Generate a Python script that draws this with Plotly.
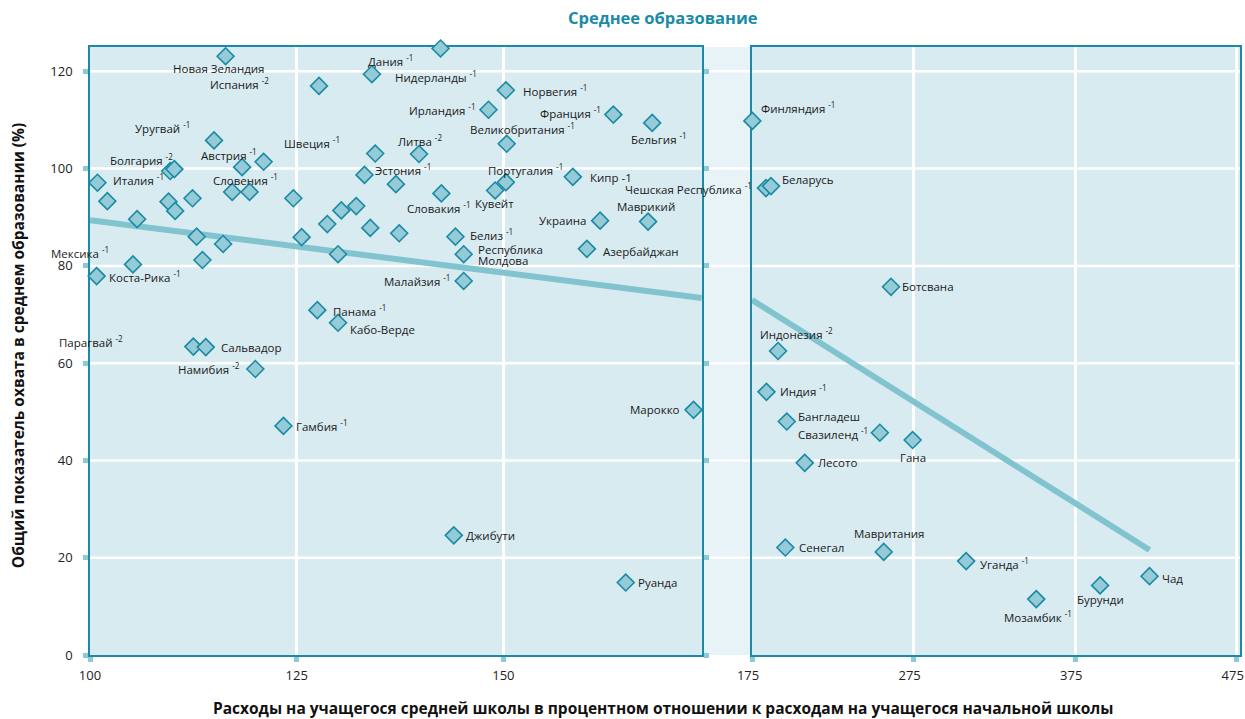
import plotly.graph_objects as go

# --- data ---
left_names = ["Новая Зеландия", "Дания <sup>-1</sup>", "Испания <sup>-2</sup>", "Нидерланды <sup>-1</sup>",
              "Норвегия <sup>-1</sup>", "Ирландия <sup>-1</sup>", "Франция <sup>-1</sup>", "Бельгия <sup>-1</sup>",
              "Великобритания <sup>-1</sup>", "Уругвай <sup>-1</sup>", "Швеция <sup>-1</sup>", "Литва <sup>-2</sup>",
              "Австрия <sup>-1</sup>", "Болгария <sup>-2</sup>", "Италия <sup>-1</sup>", "Словения <sup>-1</sup>",
              "Эстония <sup>-1</sup>", "Португалия <sup>-1</sup>", "Кувейт", "Кипр -1", "Словакия <sup>-1</sup>",
              "Украина", "Маврикий", "Белиз <sup>-1</sup>", "Республика<br>Молдова", "Азербайджан",
              "Малайзия <sup>-1</sup>", "Панама <sup>-1</sup>", "Кабо-Верде", "Мексика <sup>-1</sup>",
              "Коста-Рика <sup>-1</sup>", "Парагвай <sup>-2</sup>", "Сальвадор", "Намибия <sup>-2</sup>",
              "Гамбия <sup>-1</sup>", "Джибути", "Руанда", "Марокко"]
left_x = [116.4, 142.4, 127.7, 134.1, 150.3, 148.2, 163.3, 168.0, 150.4, 115.0, 134.5, 139.8,
          121.0, 110.2, 100.9, 119.3, 133.2, 150.3, 149.0, 158.4, 142.5, 161.7, 167.5, 144.2,
          145.2, 160.1, 145.2, 127.5, 130.0, 105.2, 100.8, 112.5, 114.0, 120.0, 123.4, 144.0,
          164.8, 173.0]
left_y = [123.1, 124.7, 117.0, 119.4, 116.1, 112.1, 111.1, 109.4, 105.1, 105.8, 103.1, 103.0,
          101.4, 99.9, 97.1, 95.2, 98.7, 97.2, 95.5, 98.3, 94.9, 89.3, 89.1, 86.0,
          82.4, 83.5, 76.9, 70.9, 68.3, 80.3, 77.9, 63.4, 63.3, 58.8, 47.1, 24.6,
          14.9, 50.4]

# unlabelled countries in the left panel
other_x = [102.1, 105.7, 109.5, 110.3, 112.4, 112.9, 113.6, 116.1, 118.4, 117.2, 124.6, 125.6,
           128.7, 130.0, 130.4, 132.2, 133.9, 137.4, 137.0, 109.7]
other_y = [93.3, 89.6, 93.2, 91.3, 93.9, 86.0, 81.2, 84.5, 100.3, 95.2, 93.9, 85.9,
           88.6, 82.4, 91.4, 92.3, 87.8, 86.7, 96.8, 99.5]

right_names = ["Финляндия <sup>-1</sup>", "Чешская Республика <sup>-1</sup>", "Беларусь", "Ботсвана",
               "Индонезия <sup>-2</sup>", "Индия <sup>-1</sup>", "Бангладеш", "Свазиленд <sup>-1</sup>",
               "Гана", "Лесото", "Сенегал", "Мавритания", "Уганда <sup>-1</sup>",
               "Мозамбик <sup>-1</sup>", "Бурунди", "Чад"]
right_x = [175.2, 183.6, 186.7, 261.0, 191.1, 183.9, 196.5, 254.1, 274.4, 207.6, 195.6, 256.5,
           307.5, 350.9, 390.4, 421.0]
right_y = [109.8, 96.0, 96.4, 75.7, 62.5, 54.1, 48.0, 45.7, 44.2, 39.5, 22.1, 21.2,
           19.3, 11.5, 14.3, 16.2]

fit_left_x = [100, 174]
fit_left_y = [89.4, 73.4]
fit_right_x = [175, 421]
fit_right_y = [73.0, 21.6]

y_ticks = [0, 20, 40, 60, 80, 100, 120]
x_ticks_left = [100, 125, 150]
x_ticks_right = [175, 275, 375, 475]

# label placement: anchor, dx, dy (pixels, dy down)
left_pos = [("center", -7, 12), ("right", -26, 12), ("right", -48, -2), ("left", 21, 2),
            ("left", 15, 0), ("right", -11, 0), ("right", -10, -2), ("center", 7, 16),
            ("center", 16, -15), ("right", -22, -13), ("right", -33, -11), ("center", 1, -14),
            ("right", -5, -7), ("right", 1, -10), ("left", 14, -3), ("center", -4, -12),
            ("left", 9, -5), ("center", 20, -13), ("center", -1, 13), ("left", 15, 1),
            ("center", -2, 14), ("right", -12, 0), ("center", -2, -15), ("left", 13, -2),
            ("left", 12, 1), ("left", 14, 3), ("right", -12, 0), ("left", 14, 0),
            ("left", 10, 7), ("right", -22, -12), ("left", 10, 0), ("right", -68, -5),
            ("left", 13, 0), ("right", -13, -1), ("left", 11, 0), ("left", 10, 0),
            ("left", 10, 0), ("right", -12, 0)]
right_pos = [("left", 7, -13), ("right", -12, 0), ("left", 9, -7), ("left", 9, 0),
             ("center", 18, -18), ("left", 12, -1), ("left", 9, -5), ("right", -10, 1),
             ("center", 0, 17), ("left", 11, 0), ("left", 12, 0), ("center", 5, -18),
             ("left", 12, 2), ("center", 2, 17), ("center", 0, 14), ("left", 10, 2)]

PANEL = "#d8ebf1"
GAP = "#e7f3f6"
BORDER = "#1b8aa5"
MFILL = "#95cad7"
FIT = "#82c3d0"
TICK = "#8ccad7"
FONT = "Open Sans"

dom_l = [0, 0.532]
dom_r = [0.5757, 1]

marker = dict(symbol="diamond", size=13, color=MFILL, line=dict(color=BORDER, width=1.6))

fig = go.Figure()
fig.add_trace(go.Scatter(x=fit_left_x, y=fit_left_y, mode="lines", line=dict(color=FIT, width=6),
                         xaxis="x", yaxis="y", hoverinfo="skip"))
fig.add_trace(go.Scatter(x=fit_right_x, y=fit_right_y, mode="lines", line=dict(color=FIT, width=6),
                         xaxis="x2", yaxis="y", hoverinfo="skip"))
fig.add_trace(go.Scatter(x=other_x, y=other_y, mode="markers", marker=marker, xaxis="x", yaxis="y",
                         cliponaxis=False))
fig.add_trace(go.Scatter(x=left_x, y=left_y, mode="markers", marker=marker, xaxis="x", yaxis="y",
                         cliponaxis=False, text=left_names))
fig.add_trace(go.Scatter(x=right_x, y=right_y, mode="markers", marker=marker, xaxis="x2", yaxis="y",
                         cliponaxis=False, text=right_names))

annotations = []
for names, xs, ys, pos, xr in [(left_names, left_x, left_y, left_pos, "x"),
                               (right_names, right_x, right_y, right_pos, "x2")]:
    for n, x, y, (anc, dx, dy) in zip(names, xs, ys, pos):
        lines = n.split("<br>")
        # tight line spacing for two-line labels, like the original
        for i, ln in enumerate(lines):
            off = (i - (len(lines) - 1) / 2) * 10.5
            annotations.append(dict(x=x, y=y, xref=xr, yref="y", text=ln, showarrow=False,
                                    xanchor=anc, yanchor="middle", xshift=dx, yshift=-(dy + off),
                                    font=dict(family=FONT, size=11.5, color="#1a1a1a")))

annotations += [
    dict(text="<b>Среднее образование</b>", x=0.4983, y=1.048, xref="paper", yref="paper",
         xanchor="center", yanchor="middle", showarrow=False,
         font=dict(family=FONT, size=16.5, color="#1a8aa5")),
    dict(text="<b>Расходы на учащегося средней школы в процентном отношении к расходам на учащегося начальной школы</b>",
         x=0.4983, y=-0.087, xref="paper", yref="paper", xanchor="center", yanchor="middle",
         showarrow=False, font=dict(family=FONT, size=15.5, color="#111")),
    dict(text="<b>Общий показатель охвата в среднем образовании (%)</b>", x=-0.0626, y=0.508,
         xref="paper", yref="paper", xanchor="center", yanchor="middle", showarrow=False,
         textangle=-90, font=dict(family=FONT, size=15.5, color="#111")),
]

shapes = [dict(type="rect", xref="paper", yref="paper", x0=0, x1=1, y0=0, y1=1,
               fillcolor=GAP, line=dict(width=0), layer="below")]
for d in (dom_l, dom_r):
    shapes.append(dict(type="rect", xref="paper", yref="paper", x0=d[0], x1=d[1], y0=0, y1=1,
                       fillcolor=PANEL, line=dict(width=0), layer="below"))
for t in y_ticks[1:]:
    shapes.append(dict(type="line", xref="paper", yref="y", x0=0, x1=1, y0=t, y1=t,
                       line=dict(color="white", width=2.5), layer="below"))

axis_common = dict(showline=True, linecolor=BORDER, linewidth=1.5, mirror=True, automargin=False,
                   showgrid=True, gridcolor="white", gridwidth=2.5, zeroline=False,
                   ticks="outside", ticklen=5, tickwidth=5, tickcolor=TICK, layer="below traces",
                   tickfont=dict(family=FONT, size=13, color="#222"), ticklabelstandoff=3)

fig.update_layout(
    width=1245, height=719,
    margin=dict(l=90, r=5, t=47, b=64),
    paper_bgcolor="white", plot_bgcolor="rgba(0,0,0,0)",
    showlegend=False,
    xaxis=dict(domain=dom_l, range=[100, 174], tickvals=x_ticks_left, anchor="y", **axis_common),
    xaxis2=dict(domain=dom_r, range=[175, 477], tickvals=x_ticks_right, anchor="y",
                **{**axis_common, "ticklabelshift": -4}),
    yaxis=dict(range=[0, 125], tickvals=y_ticks, anchor="x",
               **{**axis_common, "mirror": "all", "showgrid": False, "ticklabelstandoff": 8}),
    shapes=shapes,
    annotations=annotations,
)

# drop the default page margin so the figure fills the window exactly
fig.write_html("out.html", config={"displayModeBar": False},
               post_script="document.body.style.margin='0px';")
